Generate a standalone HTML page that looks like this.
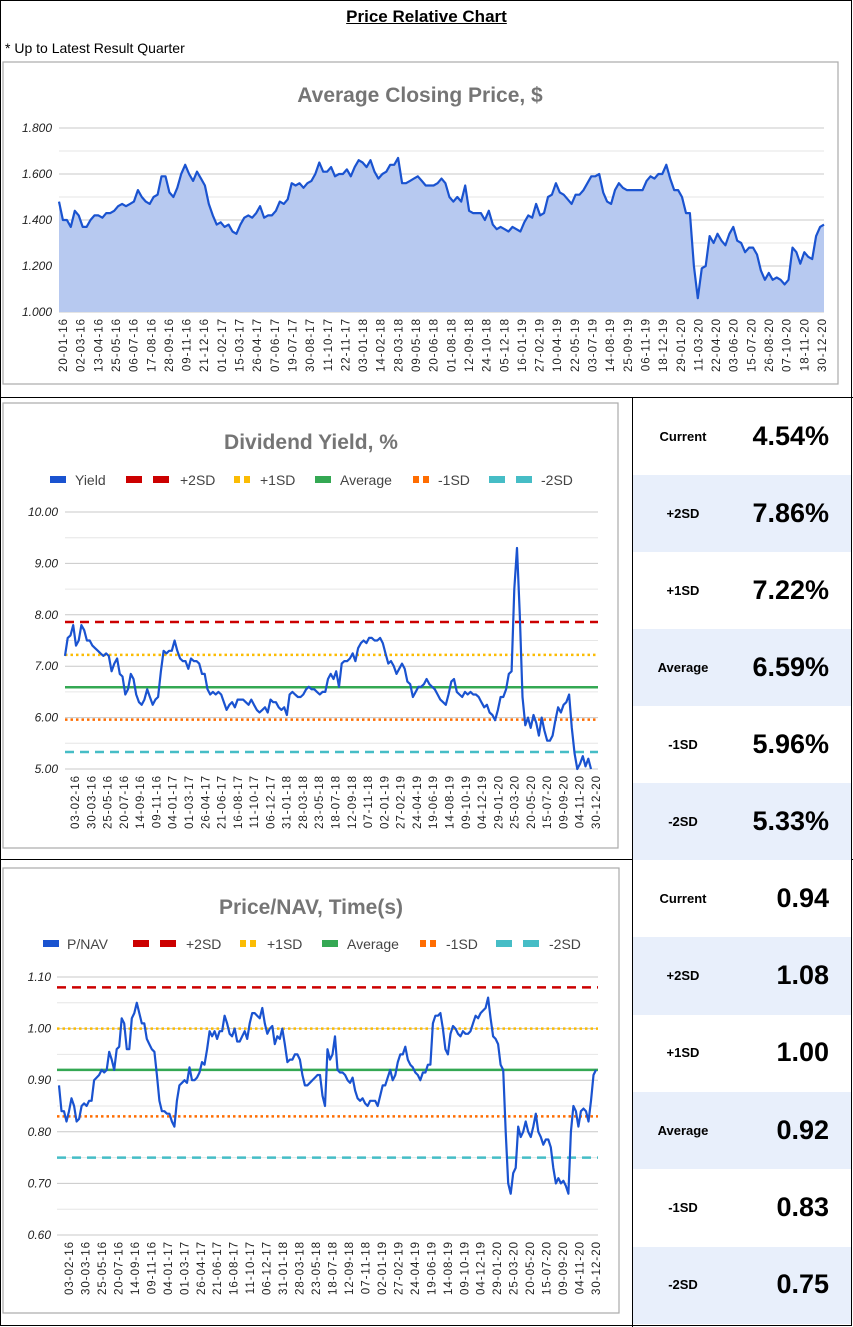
<!DOCTYPE html>
<html><head><meta charset="utf-8">
<style>
html,body{margin:0;padding:0;background:#fff;}
body{width:853px;height:1327px;position:relative;overflow:hidden;font-family:"Liberation Sans",sans-serif;}
.abs{position:absolute;}
.row{position:absolute;left:633px;width:218px;}
.row .lab{position:absolute;left:0;width:100px;text-align:center;font-weight:bold;font-size:13px;color:#000;}
.row .val{position:absolute;right:22px;font-weight:bold;font-size:27px;color:#000;}
</style></head><body>
<div class="abs" style="left:0;top:0;width:850px;height:1324px;border:1px solid #000;"></div>
<div class="abs" style="left:0;width:853px;top:7px;text-align:center;font-weight:bold;font-size:17px;text-decoration:underline;">Price Relative Chart</div>
<div class="abs" style="left:5px;top:40px;font-size:14px;">* Up to Latest Result Quarter</div>
<div class="abs" style="left:0;top:397px;width:853px;height:1px;background:#000;"></div>
<div class="abs" style="left:0;top:859px;width:853px;height:1px;background:#000;"></div>
<div class="abs" style="left:632px;top:397px;width:1px;height:930px;background:#000;"></div>

<svg id="svg" class="abs" style="left:0;top:0" width="853" height="1327"></svg>
<div id="tables"></div>

<script>
// ---------- DATA ----------
const priceLabels=["20-01-16","02-03-16","13-04-16","25-05-16","06-07-16","17-08-16","28-09-16","09-11-16","21-12-16","01-02-17","15-03-17","26-04-17","07-06-17","19-07-17","30-08-17","11-10-17","22-11-17","03-01-18","14-02-18","28-03-18","09-05-18","20-06-18","01-08-18","12-09-18","24-10-18","05-12-18","16-01-19","27-02-19","10-04-19","22-05-19","03-07-19","14-08-19","25-09-19","06-11-19","18-12-19","29-01-20","11-03-20","22-04-20","03-06-20","15-07-20","26-08-20","07-10-20","18-11-20","30-12-20"];
const priceTicks=["1.000","1.200","1.400","1.600","1.800"];
const priceValues=[1.48,1.40,1.40,1.37,1.44,1.42,1.37,1.37,1.40,1.42,1.42,1.41,1.43,1.43,1.44,1.46,1.47,1.46,1.47,1.48,1.53,1.50,1.48,1.47,1.50,1.51,1.59,1.59,1.52,1.50,1.54,1.60,1.64,1.60,1.57,1.61,1.58,1.55,1.47,1.42,1.38,1.39,1.37,1.38,1.35,1.34,1.38,1.41,1.42,1.41,1.43,1.46,1.41,1.42,1.42,1.44,1.48,1.47,1.49,1.56,1.55,1.56,1.54,1.56,1.57,1.60,1.65,1.61,1.61,1.63,1.59,1.60,1.60,1.62,1.59,1.63,1.66,1.65,1.63,1.66,1.61,1.58,1.60,1.61,1.64,1.64,1.67,1.56,1.56,1.57,1.58,1.59,1.57,1.55,1.55,1.55,1.56,1.58,1.56,1.50,1.48,1.50,1.48,1.55,1.44,1.43,1.43,1.43,1.40,1.44,1.38,1.36,1.37,1.36,1.35,1.37,1.36,1.35,1.39,1.42,1.41,1.47,1.42,1.43,1.50,1.51,1.56,1.52,1.51,1.49,1.47,1.51,1.51,1.53,1.56,1.59,1.59,1.60,1.52,1.48,1.47,1.53,1.56,1.54,1.53,1.53,1.53,1.53,1.53,1.57,1.59,1.58,1.60,1.60,1.64,1.58,1.53,1.53,1.50,1.43,1.43,1.20,1.06,1.19,1.20,1.33,1.30,1.34,1.31,1.29,1.34,1.37,1.31,1.30,1.26,1.28,1.28,1.25,1.18,1.14,1.17,1.14,1.15,1.14,1.12,1.14,1.28,1.26,1.21,1.26,1.24,1.23,1.33,1.37,1.38];

const sdLabels=["03-02-16","30-03-16","25-05-16","20-07-16","14-09-16","09-11-16","04-01-17","01-03-17","26-04-17","21-06-17","16-08-17","11-10-17","06-12-17","31-01-18","28-03-18","23-05-18","18-07-18","12-09-18","07-11-18","02-01-19","27-02-19","24-04-19","19-06-19","14-08-19","09-10-19","04-12-19","29-01-20","25-03-20","20-05-20","15-07-20","09-09-20","04-11-20","30-12-20"];
const yieldTicks=["5.00","6.00","7.00","8.00","9.00","10.00"];
const yieldValues=[7.2,7.55,7.6,7.8,7.4,7.5,7.8,7.7,7.5,7.5,7.4,7.35,7.3,7.25,7.2,7.25,7.2,6.9,7.05,7.15,6.85,6.8,6.45,6.55,6.85,6.75,6.45,6.3,6.25,6.35,6.55,6.4,6.25,6.35,6.4,6.9,7.3,7.25,7.3,7.3,7.5,7.3,7.15,7.1,7.1,6.95,7.15,7.1,7.1,7.05,6.85,6.85,6.55,6.45,6.5,6.45,6.5,6.45,6.3,6.15,6.25,6.3,6.2,6.35,6.35,6.35,6.3,6.25,6.35,6.25,6.15,6.1,6.15,6.2,6.1,6.35,6.3,6.3,6.2,6.15,6.2,6.05,6.45,6.5,6.45,6.4,6.4,6.45,6.55,6.6,6.55,6.55,6.5,6.45,6.5,6.5,6.75,6.85,6.75,6.9,6.6,7.05,7.1,7.1,7.15,7.25,7.1,7.35,7.45,7.5,7.45,7.55,7.55,7.5,7.5,7.55,7.45,7.25,7.05,7.1,7.0,6.85,6.95,7.05,6.95,6.7,6.65,6.4,6.5,6.6,6.6,6.65,6.75,6.65,6.6,6.55,6.45,6.35,6.3,6.25,6.45,6.7,6.75,6.5,6.45,6.4,6.5,6.45,6.5,6.45,6.45,6.4,6.3,6.2,6.25,6.1,6.05,5.95,6.15,6.4,6.4,6.55,6.85,6.9,8.5,9.3,8.0,6.4,5.85,6.0,5.8,6.05,5.9,5.65,6.0,5.75,5.55,5.55,5.65,5.95,6.2,6.1,6.25,6.3,6.45,5.8,5.3,5.0,5.1,5.25,5.05,5.2,5.0];
const yieldBands=[7.86,7.22,6.59,5.96,5.33];

const navTicks=["0.60","0.70","0.80","0.90","1.00","1.10"];
const navValues=[0.89,0.84,0.84,0.82,0.84,0.865,0.85,0.82,0.825,0.85,0.855,0.85,0.86,0.86,0.90,0.905,0.91,0.92,0.915,0.92,0.955,0.94,0.92,0.96,0.965,1.02,1.01,0.96,0.96,1.02,1.03,1.05,1.03,1.01,1.01,0.98,0.97,0.96,0.955,0.91,0.86,0.84,0.84,0.835,0.835,0.82,0.81,0.86,0.89,0.895,0.90,0.895,0.925,0.90,0.90,0.905,0.915,0.935,0.93,0.96,0.995,0.985,0.995,0.98,0.995,0.995,1.025,1.01,0.99,0.985,1.00,0.975,0.975,0.985,0.995,0.98,1.01,1.03,1.03,1.025,1.02,1.04,1.01,0.99,1.00,1.005,0.97,0.985,0.98,1.00,0.97,0.935,0.94,0.94,0.95,0.95,0.94,0.91,0.89,0.89,0.895,0.90,0.905,0.91,0.91,0.87,0.85,0.96,0.94,0.95,0.985,0.92,0.915,0.915,0.91,0.90,0.895,0.905,0.88,0.865,0.86,0.865,0.855,0.85,0.86,0.86,0.86,0.85,0.87,0.89,0.89,0.905,0.92,0.90,0.91,0.935,0.95,0.95,0.965,0.94,0.93,0.925,0.915,0.91,0.90,0.915,0.915,0.93,0.93,1.01,1.025,1.025,1.03,1.00,0.96,0.95,0.99,1.005,1.00,0.99,0.985,0.995,0.99,0.99,0.995,1.01,1.025,1.02,1.03,1.035,1.04,1.06,1.02,0.985,0.98,0.97,0.93,0.92,0.80,0.70,0.68,0.72,0.73,0.81,0.79,0.80,0.82,0.80,0.79,0.81,0.835,0.80,0.79,0.775,0.785,0.785,0.77,0.73,0.70,0.71,0.70,0.705,0.695,0.68,0.80,0.85,0.84,0.81,0.84,0.845,0.84,0.82,0.86,0.91,0.92];
const navBands=[1.08,1.00,0.92,0.83,0.75];

const bandNames=["+2SD","+1SD","Average","-1SD","-2SD"];
const yieldTable=["4.54%","7.86%","7.22%","6.59%","5.96%","5.33%"];
const navTable=["0.94","1.08","1.00","0.92","0.83","0.75"];
const tableNames=["Current","+2SD","+1SD","Average","-1SD","-2SD"];

// ---------- DRAW ----------
const NS="http://www.w3.org/2000/svg";
const svg=document.getElementById('svg');
function mk(tag,attrs,parent){const e=document.createElementNS(NS,tag);for(const k in attrs)e.setAttribute(k,attrs[k]);(parent||svg).appendChild(e);return e;}
function txt(x,y,s,attrs){const t=mk('text',Object.assign({x:x,y:y},attrs));t.textContent=s;return t;}

const bandStyles=[
 {stroke:"#cc0000",dash:"9,6",w:2.5},
 {stroke:"#fbbc04",dash:"2.5,3",w:2.5},
 {stroke:"#34a853",dash:"",w:2.5},
 {stroke:"#ff6d01",dash:"2.5,3",w:2.5},
 {stroke:"#46bdc6",dash:"9,6",w:2.5}];

function chart(o){
  const g=mk('g',{});
  
  
  const box=mk('rect',{x:o.box[0],y:o.box[1],width:o.box[2],height:o.box[3],fill:"#fff",stroke:"#aaa","stroke-width":1.2},g);
  
  
  const t=txt(o.titleX,o.titleY,o.title,{"font-size":21,"font-weight":"bold",fill:"#757575","text-anchor":"middle"});
  g.appendChild(t);
  
  
  const yv=v=>o.y0+(v-o.vmin)/(o.vmax-o.vmin)*(o.y1-o.y0);
  for(let v=o.vmin;v<=o.vmax+1e-9;v+=o.minor){
    const major=Math.abs(Math.round((v-o.vmin)/o.major)*o.major-(v-o.vmin))<1e-6;
    const l=mk('line',{x1:o.gx0,x2:o.gx1,y1:yv(v),y2:yv(v),stroke:major?"#c8c8c8":"#e6e6e6","stroke-width":1},g);
    
    
  }
  o.ticks.forEach(s=>{
    const tt=txt(o.tickX,yv(parseFloat(s))+4,s,{"font-size":12,"font-style":"italic",fill:"#222","text-anchor":"end"});
    g.appendChild(tt);
    
    
  });
  const n=o.values.length;
  const xi=i=>o.dx0+i*(o.dx1-o.dx0)/(n-1);
  let d="";
  o.values.forEach((v,i)=>{d+=(i?"L":"M")+xi(i).toFixed(1)+","+yv(v).toFixed(1);});
  if(o.area){
    const a=mk('path',{d:d+"L"+xi(n-1)+","+o.y0+"L"+xi(0)+","+o.y0+"Z",fill:"#b7c9f0"},g);
    
    
  }
  if(o.bands){
    o.bands.forEach((b,k)=>{
      const s=bandStyles[k];
      const l=mk('line',{x1:o.gx0,x2:o.gx1,y1:yv(b),y2:yv(b),stroke:s.stroke,"stroke-width":s.w,"stroke-dasharray":s.dash},g);
      
      
    });
  }
  const p=mk('path',{d:d,fill:"none",stroke:"#1a53d0","stroke-width":2.2,"stroke-linejoin":"round"},g);
  
  
  const m=o.labels.length;
  o.labels.forEach((s,i)=>{
    const x=o.lx0+i*(o.lx1-o.lx0)/(m-1);
    const tl=txt(0,0,s,{"font-size":11.5,"letter-spacing":"1",fill:"#222","text-anchor":"end",transform:"translate("+(x+4)+","+(o.y0+6)+") rotate(-90)"});
    g.appendChild(tl);
    
    
  });
  if(o.legend){
    const L=o.legend;
    const items=[{c:"#1a53d0",t:o.seriesLabel,type:"solid"}].concat(bandNames.map((b,k)=>({c:bandStyles[k].stroke,t:b,type:k==2?"solid":(k==1||k==3?"dot":"dash")})));
    items.forEach((it,k)=>{
      const gg=mk('g',{},g);
      
      
      const x=L.xs[k];
      if(it.type=="solid") mk('rect',{x:x,y:L.y-4,width:16,height:7,fill:it.c},gg);
      else if(it.type=="dot"){mk('rect',{x:x,y:L.y-4,width:6,height:7,fill:it.c},gg);mk('rect',{x:x+10,y:L.y-4,width:6,height:7,fill:it.c},gg);}
      else {mk('rect',{x:x,y:L.y-4,width:16,height:7,fill:it.c},gg);mk('rect',{x:x+27,y:L.y-4,width:16,height:7,fill:it.c},gg);}
      const tx=txt(L.tx[k],L.y+5,it.t,{"font-size":14,fill:"#444"});
      gg.appendChild(tx);
    });
  }
}

chart({name:"price-chart",box:[3,62,835,322],title:"Average Closing Price, $",titleX:420,titleY:102,
  vmin:1.0,vmax:1.8,minor:0.1,major:0.2,y0:312,y1:128,gx0:59,gx1:824,tickX:52,ticks:priceTicks,
  values:priceValues,dx0:59,dx1:824,area:true,seriesName:"price-line",labels:priceLabels,lx0:63,lx1:822});

chart({name:"dividend-yield-chart",box:[3,403,615,445],title:"Dividend Yield, %",titleX:311,titleY:449,
  vmin:5,vmax:10,minor:0.5,major:1,y0:769,y1:512,gx0:65,gx1:598,tickX:58,ticks:yieldTicks,
  values:yieldValues,dx0:65,dx1:591,bands:yieldBands,seriesName:"yield-line",seriesLabel:"Yield",labels:sdLabels,lx0:75,lx1:596,
  legend:{y:480,xs:[50,126,234,315,413,489],tx:[75,180,260,340,438,541]}});

chart({name:"price-nav-chart",box:[3,868,616,445],title:"Price/NAV, Time(s)",titleX:311,titleY:914,
  vmin:0.6,vmax:1.1,minor:0.05,major:0.1,y0:1235,y1:977,gx0:57,gx1:598,tickX:51,ticks:navTicks,
  values:navValues,dx0:59,dx1:596,bands:navBands,seriesName:"pnav-line",seriesLabel:"P/NAV",labels:sdLabels,lx0:69,lx1:596,
  legend:{y:944,xs:[43,133,240,322,420,496],tx:[67,186,267,347,446,549]}});

const tables=document.getElementById('tables');
function table(vals,top,h,name){
  vals.forEach((v,i)=>{
    const r=document.createElement('div');
    r.className='row';
    
    
    r.style.top=(top+i*h)+'px';r.style.height=h+'px';
    r.style.background=(i%2)?'#e8effb':'#fff';
    const lab=document.createElement('div');lab.className='lab';lab.textContent=tableNames[i];lab.style.top=(h/2-8)+'px';
    const val=document.createElement('div');val.className='val';val.textContent=v;val.style.top=(h/2-16)+'px';
    r.appendChild(lab);r.appendChild(val);tables.appendChild(r);
  });
}
table(yieldTable,398,77,'yield-stat');
table(navTable,860,77.3,'nav-stat');
</script>
</body></html>
